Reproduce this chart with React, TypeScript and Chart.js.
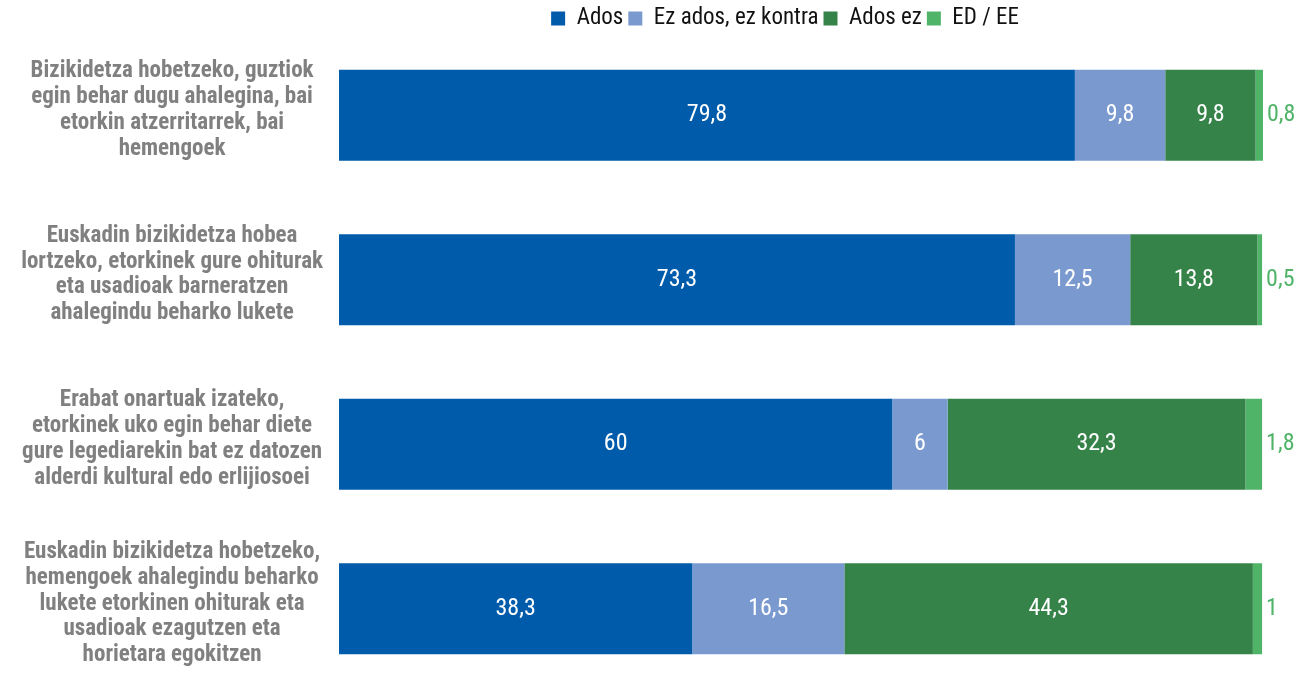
import React, { useEffect, useRef } from "react";
import { Chart, registerables } from "chart.js";

Chart.register(...registerables);

const categories: string[][] = [
  ["Bizikidetza hobetzeko, guztiok", "egin behar dugu ahalegina, bai", "etorkin atzerritarrek, bai", "hemengoek"],
  ["Euskadin bizikidetza hobea", "lortzeko, etorkinek gure ohiturak", "eta usadioak barneratzen", "ahalegindu beharko lukete"],
  ["Erabat onartuak izateko,", "etorkinek uko egin behar diete", "gure legediarekin bat ez datozen", "alderdi kultural edo erlijiosoei"],
  ["Euskadin bizikidetza hobetzeko,", "hemengoek ahalegindu beharko", "lukete etorkinen ohiturak eta", "usadioak ezagutzen eta", "horietara egokitzen"],
];

const seriesNames = ["Ados", "Ez ados, ez kontra", "Ados ez", "ED / EE"];
const ados = [79.8, 73.3, 60, 38.3];
const neutral = [9.8, 12.5, 6, 16.5];
const adosEz = [9.8, 13.8, 32.3, 44.3];
const edee = [0.8, 0.5, 1.8, 1];

const colors = ["#005CAB", "#7A9ACF", "#36834A", "#4FB368"];
const FONT = "'Roboto Condensed', 'Liberation Sans Narrow', 'DejaVu Sans Condensed', sans-serif";

const valueLabels = {
  id: "valueLabels",
  afterDatasetsDraw(chart: any) {
    const ctx = chart.ctx;
    ctx.save();
    ctx.font = `normal 24px ${FONT}`;
    ctx.textBaseline = "middle";
    chart.data.datasets.forEach((ds: any, di: number) => {
      const meta = chart.getDatasetMeta(di);
      meta.data.forEach((bar: any, i: number) => {
        const v = ds.data[i];
        const txt = String(v).replace(".", ",");
        if (di < 3) {
          ctx.fillStyle = "#ffffff";
          ctx.textAlign = "center";
          ctx.fillText(txt, (bar.x + bar.base) / 2, bar.y);
        } else {
          ctx.fillStyle = colors[3];
          ctx.textAlign = "left";
          ctx.fillText(txt, bar.x + 4, bar.y);
        }
      });
    });
    ctx.restore();
  },
};

const legendShift = {
  id: "legendShift",
  afterLayout(chart: any) {
    if (chart.legend) {
      chart.legend.left -= 16;
      chart.legend.right -= 16;
      chart.legend.top += 7;
      chart.legend.bottom += 7;
    }
  },
};

export default function App() {
  const ref = useRef<HTMLCanvasElement | null>(null);
  useEffect(() => {
    if (!ref.current) return;
    const data = [ados, neutral, adosEz, edee];
    const chart = new Chart(ref.current, {
      type: "bar",
      data: {
        labels: categories,
        datasets: seriesNames.map((name, i) => ({
          label: name,
          data: data[i],
          backgroundColor: colors[i],
          borderWidth: 0,
          categoryPercentage: 1,
          barPercentage: 0.553,
        })),
      },
      options: {
        indexAxis: "y",
        animation: false,
        responsive: true,
        maintainAspectRatio: false,
        layout: { padding: { left: 0, right: 42, top: -5, bottom: 0 } },
        scales: {
          x: { stacked: true, min: 0, max: 100.2, display: false },
          y: {
            stacked: true,
            grid: { display: false, drawTicks: false },
            border: { display: false },
            afterFit: (scale: any) => {
              scale.width = 339;
              scale.paddingTop = 0;
              scale.paddingBottom = 0;
            },
            ticks: {
              crossAlign: "center",
              padding: 16,
              labelOffset: -5,
              color: "#808080",
              font: { family: FONT, size: 23, weight: "bold", lineHeight: 1.13 },
            },
          },
        },
        plugins: {
          tooltip: { enabled: false },
          legend: {
            position: "top",
            fullSize: false,
            labels: {
              boxWidth: 14,
              boxHeight: 14,
              padding: 5,
              color: "#111111",
              font: { family: FONT, size: 23, lineHeight: 1 },
            },
          },
        },
      },
      plugins: [valueLabels, legendShift],
    } as any);
    return () => chart.destroy();
  }, []);
  return (
    <div style={{ position: "absolute", left: 0, top: 0, width: 1305, height: 691 }}>
      <canvas ref={ref} />
    </div>
  );
}
